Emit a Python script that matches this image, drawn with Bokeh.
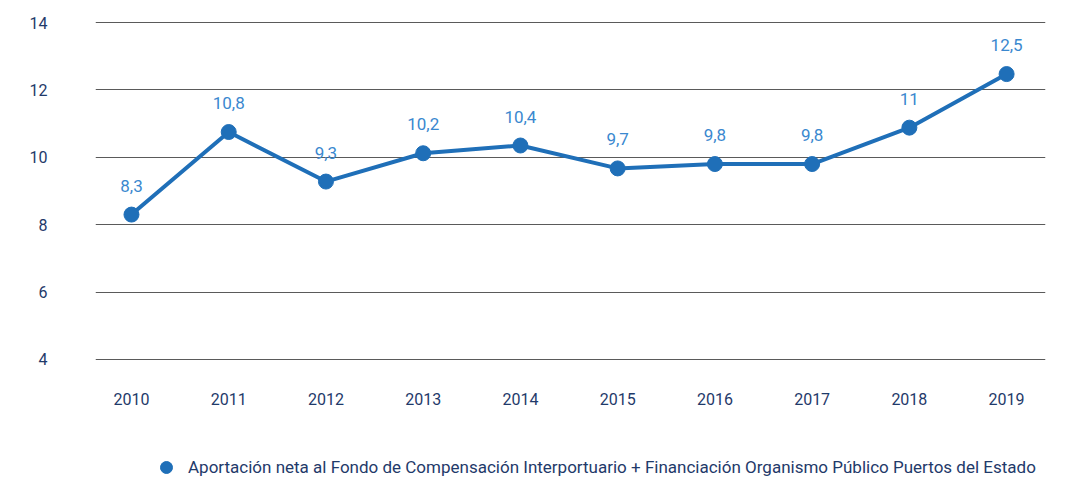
from bokeh.plotting import figure
from bokeh.layouts import column
from bokeh.models import Range1d, ColumnDataSource, Legend, LegendItem, FixedTicker
from bokeh.core.properties import value
from bokeh.embed import file_html
from bokeh.resources import INLINE

years = [2010, 2011, 2012, 2013, 2014, 2015, 2016, 2017, 2018, 2019]
values = [8.3, 10.75, 9.28, 10.12, 10.35, 9.67, 9.8, 9.8, 10.88, 12.47]
labels = ["8,3", "10,8", "9,3", "10,2", "10,4", "9,7", "9,8", "9,8", "11", "12,5"]
y_ticks = [4, 6, 8, 10, 12, 14]
series_name = "Aportación neta al Fondo de Compensación Interportuario + Financiación Organismo Público Puertos del Estado"

FONT = "Roboto"
NAVY = "#1f3a6a"
BLUE = "#1f6fb8"
LBLUE = "#3a88cf"

src = ColumnDataSource(dict(x=years, y=values, lab=labels))

chart = figure(width=1072, height=422, output_backend="svg", toolbar_location=None,
               x_range=Range1d(2009.63, 2019.4), y_range=Range1d(3.97, 14.03),
               min_border_left=95, min_border_right=27, min_border_top=21, min_border_bottom=62)
chart.outline_line_color = None
chart.background_fill_color = "white"

chart.xgrid.grid_line_color = None
chart.ygrid.grid_line_color = "#5a5a5a"
chart.ygrid.grid_line_width = 1
chart.yaxis.ticker = FixedTicker(ticks=y_ticks)
chart.xaxis.ticker = FixedTicker(ticks=years)
for ax in (chart.xaxis, chart.yaxis):
    ax.axis_line_color = None
    ax.major_tick_line_color = None
    ax.minor_tick_line_color = None
    ax.major_label_text_font = FONT
    ax.major_label_text_font_size = "16px"
    ax.major_label_text_color = NAVY
chart.yaxis.major_label_standoff = 42
chart.xaxis.major_label_standoff = 26

chart.line("x", "y", source=src, line_color=BLUE, line_width=4)
chart.scatter("x", "y", source=src, size=15, fill_color=BLUE, line_color=BLUE)
chart.text("x", "y", text="lab", source=src, text_font=value(FONT), text_font_size="17px",
           text_color=LBLUE, text_align="center", text_baseline="middle", y_offset=-29)

# legend strip (frame aligned with the chart frame by the column layout)
lf = figure(width=1072, height=60, output_backend="svg", toolbar_location=None,
            x_range=Range1d(0, 1), y_range=Range1d(0, 1),
            min_border_left=95, min_border_right=27, min_border_top=0, min_border_bottom=0)
lf.axis.visible = False
lf.grid.visible = False
lf.outline_line_color = None
leg_src = ColumnDataSource(dict(x=years[:1], y=values[:1]))
leg_r = lf.scatter("x", "y", source=leg_src, size=15, fill_color=BLUE, line_color=BLUE)
legend = Legend(items=[LegendItem(label=series_name, renderers=[leg_r])],
                location=(53, 0), padding=0, margin=0, spacing=0,
                glyph_width=36, glyph_height=30, label_standoff=4, label_height=30,
                label_text_font=FONT, label_text_font_size="17px", label_text_color=NAVY,
                border_line_color=None, background_fill_alpha=0)
lf.add_layout(legend, "center")

p = column(chart, lf, spacing=0)
open("out.html", "w").write(file_html(p, INLINE))
